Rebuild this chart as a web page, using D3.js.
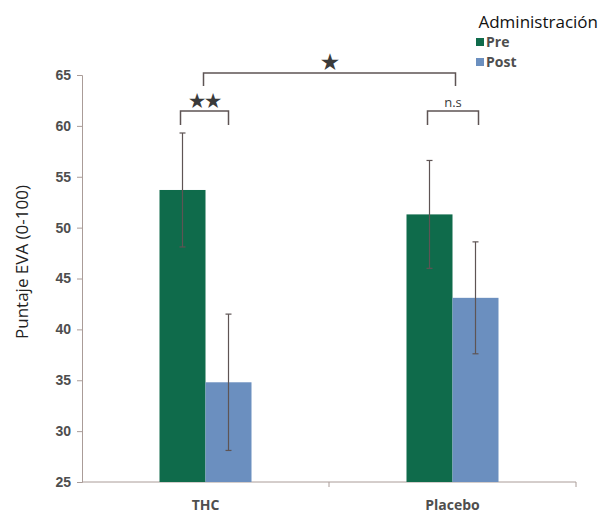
<!DOCTYPE html>
<html>
<head>
<meta charset="utf-8">
<script src="https://cdn.jsdelivr.net/npm/d3@7"></script>
<style>
  body { margin: 0; background: #fff; }
  svg { display: block; font-family: "Open Sans", sans-serif; }
</style>
</head>
<body>
<svg id="chart" width="601" height="514"></svg>
<script>
var categories = ["THC", "Placebo"];
var series = ["Pre", "Post"];
var means = {
    THC: [53.7, 34.8],
    Placebo: [51.3, 43.1]
};
var errors = {
    THC: [5.6, 6.7],
    Placebo: [5.3, 5.5]
};
var yTicks = [25, 30, 35, 40, 45, 50, 55, 60, 65];
var colors = ["#0f6b4b", "#6b8fbf"];

var svg = d3.select("#chart");

var y = d3.scaleLinear().domain([25, 65]).range([482, 75]);
var x0 = d3.scaleBand().domain(categories).range([82, 576]);
var x1 = d3.scaleBand().domain(series).range([-46, 46]);

var axisColor = "#aa9c98",
    markColor = "#5e5454",
    textColor = "#4e4e4e";

// y axis
var yAxis = svg.append("g")
    .attr("transform", "translate(82,0)")
    .call(d3.axisLeft(y).tickValues(yTicks).tickSize(5).tickPadding(6));
yAxis.select(".domain").attr("stroke", axisColor);
yAxis.selectAll(".tick line").attr("stroke", axisColor);
yAxis.selectAll(".tick text")
    .attr("fill", textColor)
    .style("font-size", "14px")
    .style("font-weight", "bold");

// x axis, ticks at band edges
var xAxis = svg.append("g").attr("transform", "translate(0,482)");
xAxis.append("line")
    .attr("x1", x0.range()[0]).attr("x2", x0.range()[1])
    .attr("stroke", axisColor);
xAxis.selectAll("line.tk")
    .data(categories.slice(1).map(function (c) { return x0(c); }).concat([x0.range()[1]]))
    .enter().append("line")
    .attr("class", "tk")
    .attr("x1", function (d) { return d; })
    .attr("x2", function (d) { return d; })
    .attr("y1", 0).attr("y2", 5)
    .attr("stroke", axisColor);
xAxis.selectAll("text")
    .data(categories)
    .enter().append("text")
    .attr("x", function (d) { return x0(d) + x0.bandwidth() / 2; })
    .attr("y", 28)
    .attr("text-anchor", "middle")
    .attr("fill", textColor)
    .style("font-size", "14px")
    .style("font-weight", "bold")
    .text(function (d) { return d; });

// bars
var rows = [];
categories.forEach(function (c) {
    series.forEach(function (s, i) {
        rows.push({ cat: c, ser: s, i: i, v: means[c][i], e: errors[c][i] });
    });
});

function cx(d) {
    return x0(d.cat) + x0.bandwidth() / 2 + x1(d.ser) + x1.bandwidth() / 2;
}

svg.selectAll("rect.bar")
    .data(rows)
    .enter().append("rect")
    .attr("class", "bar")
    .attr("x", function (d) { return x0(d.cat) + x0.bandwidth() / 2 + x1(d.ser); })
    .attr("width", x1.bandwidth())
    .attr("y", function (d) { return y(d.v); })
    .attr("height", function (d) { return y(25) - y(d.v); })
    .attr("fill", function (d) { return colors[d.i]; });

// error bars
var err = svg.selectAll("g.err")
    .data(rows)
    .enter().append("g")
    .attr("class", "err")
    .attr("stroke", markColor)
    .attr("stroke-width", 1.2);
err.append("line")
    .attr("x1", cx).attr("x2", cx)
    .attr("y1", function (d) { return y(d.v + d.e); })
    .attr("y2", function (d) { return y(d.v - d.e); });
err.append("line")
    .attr("x1", function (d) { return cx(d) - 3; })
    .attr("x2", function (d) { return cx(d) + 3; })
    .attr("y1", function (d) { return y(d.v + d.e); })
    .attr("y2", function (d) { return y(d.v + d.e); });
err.append("line")
    .attr("x1", function (d) { return cx(d) - 3; })
    .attr("x2", function (d) { return cx(d) + 3; })
    .attr("y1", function (d) { return y(d.v - d.e); })
    .attr("y2", function (d) { return y(d.v - d.e); });

// significance brackets
function bracket(xa, xb, yTop, drop, label, labelSize, weight) {
    svg.append("path")
        .attr("d", "M" + xa + "," + (yTop + drop) + "V" + yTop + "H" + xb + "V" + (yTop + drop))
        .attr("fill", "none")
        .attr("stroke", markColor)
        .attr("stroke-width", 1.5);
    svg.append("text")
        .attr("x", (xa + xb) / 2)
        .attr("y", yTop - 4)
        .attr("text-anchor", "middle")
        .attr("fill", "#3a3a3a")
        .style("font-size", labelSize)
        .style("font-weight", weight)
        .text(label);
}

var thcPre = cx(rows[0]), thcPost = cx(rows[1]);
var plaPre = cx(rows[2]), plaPost = cx(rows[3]);
bracket(thcPre - 2, thcPost, 111, 14, "\u2605\u2605", "18px", "bold");
bracket(plaPre - 2, plaPost + 3, 111, 14, "n.s", "13px", "normal");
bracket(x0("THC") + x0.bandwidth() / 2 - 2, x0("Placebo") + x0.bandwidth() / 2 + 3, 73, 13, "\u2605", "20px", "bold");

// y title
svg.append("text")
    .attr("transform", "translate(28,262) rotate(-90)")
    .attr("text-anchor", "middle")
    .attr("fill", "#222")
    .style("font-size", "17px")
    .text("Puntaje EVA (0-100)");

// legend
svg.append("text")
    .attr("x", 598).attr("y", 28)
    .attr("text-anchor", "end")
    .attr("fill", "#111")
    .style("font-size", "17px")
    .text("Administración");
var leg = svg.selectAll("g.leg")
    .data(series)
    .enter().append("g")
    .attr("class", "leg")
    .attr("transform", function (d, i) { return "translate(476," + (38 + i * 20) + ")"; });
leg.append("rect")
    .attr("width", 8).attr("height", 8)
    .attr("fill", function (d, i) { return colors[i]; });
leg.append("text")
    .attr("x", 10).attr("y", 9)
    .attr("fill", textColor)
    .style("font-size", "14px")
    .style("font-weight", "bold")
    .text(function (d) { return d; });
</script>
</body>
</html>
